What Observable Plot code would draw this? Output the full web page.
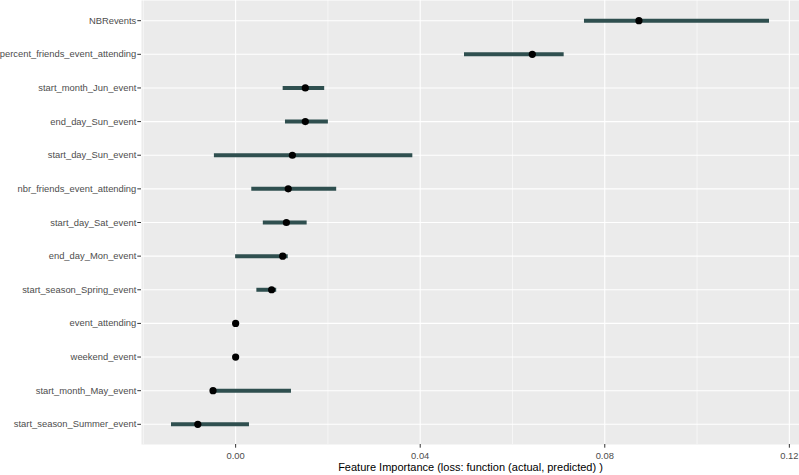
<!DOCTYPE html>
<html>
<head>
<meta charset="utf-8">
<script src="https://cdn.jsdelivr.net/npm/d3@7"></script>
<script src="https://cdn.jsdelivr.net/npm/@observablehq/plot@0.6"></script>
<style>
  html, body { margin: 0; padding: 0; background: #ffffff; }
  #chart svg { display: block; font-family: "Liberation Sans", Arial, sans-serif; }
</style>
</head>
<body>
<div id="chart"></div>
<script>
const features = [
  "NBRevents",
  "percent_friends_event_attending",
  "start_month_Jun_event",
  "end_day_Sun_event",
  "start_day_Sun_event",
  "nbr_friends_event_attending",
  "start_day_Sat_event",
  "end_day_Mon_event",
  "start_season_Spring_event",
  "event_attending",
  "weekend_event",
  "start_month_May_event",
  "start_season_Summer_event"
];
const importance = [0.0874, 0.0643, 0.0151, 0.0151, 0.0123, 0.0114, 0.0110, 0.0102, 0.0078, 0.0, 0.0, -0.0049, -0.0082];
const lower      = [0.0756, 0.0496, 0.0103, 0.0108, -0.0046, 0.0035, 0.0060, 0.0000, 0.0046, 0.0, 0.0, -0.0049, -0.0139];
const upper      = [0.1157, 0.0712, 0.0193, 0.0201, 0.0384, 0.0219, 0.0155, 0.0114, 0.0089, 0.0, 0.0, 0.0121, 0.0030];
const majorTicks = [0.00, 0.04, 0.08, 0.12];
const minorTicks = [-0.02, 0.02, 0.06, 0.10];
const xTitle = "Feature Importance (loss: function (actual, predicted) )";

const data = features.map((f, i) => ({feature: f, value: importance[i], lo: lower[i], hi: upper[i]}));

const chart = Plot.plot({
  width: 799,
  height: 475,
  marginTop: 0,
  marginRight: 0,
  marginBottom: 31,
  marginLeft: 141,
  style: {fontFamily: "'Liberation Sans', Arial, sans-serif", background: "#ffffff"},
  x: {domain: [-0.0204, 0.1222]},
  y: {type: "point", domain: features, padding: 0.6, round: false},
  marks: [
    Plot.frame({fill: "#EBEBEB", stroke: null}),
    Plot.gridX(minorTicks, {stroke: "#ffffff", strokeOpacity: 1, strokeWidth: 0.55}),
    Plot.gridX(majorTicks, {stroke: "#ffffff", strokeOpacity: 1, strokeWidth: 1.1}),
    Plot.gridY(features, {stroke: "#ffffff", strokeOpacity: 1, strokeWidth: 1.1}),
    Plot.ruleY(data, {y: "feature", x1: "lo", x2: "hi", stroke: "#2F4F4F", strokeWidth: 4}),
    Plot.dot(data, {x: "value", y: "feature", r: 3.6, fill: "#000000", stroke: null}),
    Plot.axisY({tickSize: 3.7, tickPadding: 1.5, fontSize: 9.4, fill: "#4D4D4D", stroke: "#333333", label: null}),
    Plot.axisX(majorTicks, {tickSize: 3.7, tickPadding: 4, fontSize: 9.4, fill: "#4D4D4D", stroke: "#333333",
      tickFormat: d3.format(".2f"), label: null}),
    Plot.text([xTitle], {frameAnchor: "bottom", lineAnchor: "middle", dy: 22.5, fontSize: 11, fill: "#000000", text: d => d})
  ]
});
document.getElementById("chart").appendChild(chart);
</script>
</body>
</html>
